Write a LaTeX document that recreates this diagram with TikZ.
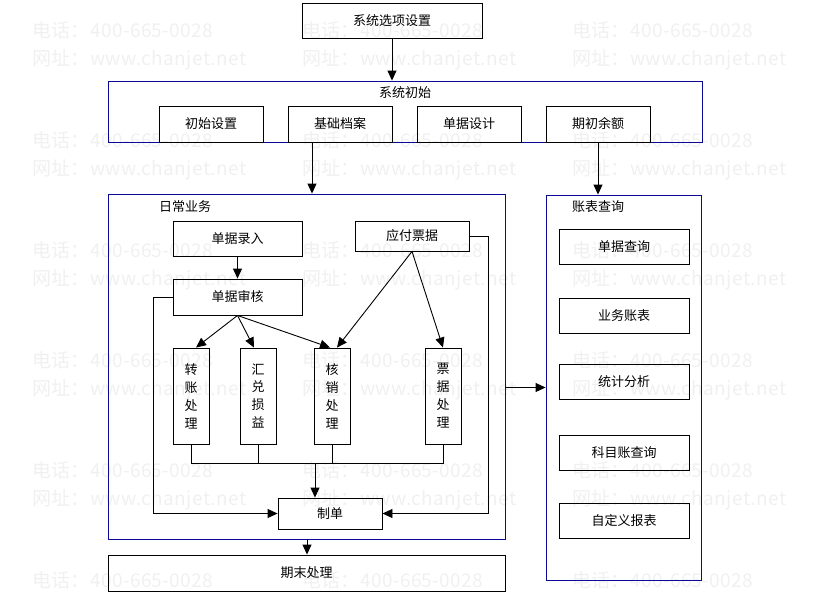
\documentclass[tikz,border=0pt]{standalone}
\usepackage{fontspec}
\usetikzlibrary{arrows.meta,calc}
\newfontfamily\cjk{Noto Sans CJK SC}
\newfontfamily\wmfont[LetterSpace=2]{Noto Sans CJK SC}
\definecolor{frameblue}{RGB}{10,10,150}
\definecolor{wmgray}{RGB}{240,240,240}
\begin{document}
\begin{tikzpicture}[x=1pt,y=-1pt,
  every node/.style={font=\cjk\fontsize{13}{18}\selectfont,inner sep=0pt},
  box/.style={draw=black,line width=0.9pt,minimum height=35pt},
  frame/.style={draw=frameblue,line width=0.9pt},
  vbox/.style={draw=black,line width=0.9pt,minimum width=36pt,minimum height=96pt,align=center},
  rbox/.style={box,minimum width=130pt},
  wm/.style={font=\wmfont\fontsize{19}{20}\selectfont,text=wmgray,anchor=west},
  conn/.style={line width=0.9pt,draw=black},
  arr/.style={conn,-{Triangle[length=10pt,width=9pt]}}
]
\useasboundingbox (0,0) rectangle (823,598);
% watermark
\foreach \cx in {32,302,572}{
  \foreach \ry in {30,140,250,360,470,580}{
    \node[wm] at (\cx,\ry) {电话：400-665-0028};
  }
  \foreach \ry in {60,170,280,390,500}{
    \node[wm] at (\cx,\ry) {网址：www.chanjet.net};
  }
}
% top
\node[box,minimum width=180pt] (opt) at (392,20.5) {系统选项设置};
\node[frame,minimum width=594pt,minimum height=61pt] (init) at (405,111.5) {};
\node (initlbl) at (405,93) {系统初始};
\node[box,minimum width=104pt,minimum height=36pt] (cs) at (211,124) {初始设置};
\node[box,minimum width=104pt,minimum height=36pt] (jc) at (340,124) {基础档案};
\node[box,minimum width=104pt,minimum height=36pt] (djsj) at (469,124) {单据设计};
\node[box,minimum width=104pt,minimum height=36pt] (qc) at (598,124) {期初余额};
% daily
\node[frame,minimum width=397pt,minimum height=345pt] (daily) at (306.5,366.5) {};
\node (dailylbl) at (185,207) {日常业务};
\node[box,minimum width=129pt] (lr) at (237.5,238.5) {单据录入};
\node[box,minimum width=129pt,minimum height=36pt] (sh) at (237.5,297) {单据审核};
\node[box,minimum width=114pt,minimum height=30pt] (yf) at (412,236) {应付票据};
\node[vbox] (zz) at (191,396) {转\\账\\处\\理};
\node[vbox] (hd) at (258,396) {汇\\兑\\损\\益};
\node[vbox] (hx) at (332,396) {核\\销\\处\\理};
\node[vbox] (pj) at (443,396) {票\\据\\处\\理};
\node[box,minimum width=104pt,minimum height=31pt] (zd) at (330,513.5) {制单};
\node[box,minimum width=397pt,minimum height=36pt] (qm) at (306.5,573) {期末处理};
% query
\node[frame,minimum width=155pt,minimum height=385pt] (zb) at (623.5,387.5) {};
\node (zblbl) at (598,207) {账表查询};
\node[rbox] (q1) at (624,246.5) {单据查询};
\node[rbox] (q2) at (624,315.5) {业务账表};
\node[rbox] (q3) at (624,382) {统计分析};
\node[rbox] (q4) at (624,452.5) {科目账查询};
\node[rbox] (q5) at (624,521) {自定义报表};
% connectors
\draw[arr] (opt.south) -- (opt.south |- init.north);
\coordinate (jcout) at ([xshift=-28pt]jc.south);
\draw[arr] (jcout) -- (jcout |- daily.north);
\draw[arr] (qc.south) -- (qc.south |- zb.north);
\draw[arr] (lr.south) -- (sh.north);
\draw[arr] (sh.south) -- ([xshift=5pt]zz.north);
\draw[arr] (sh.south) -- ([xshift=-4pt]hd.north);
\draw[arr] (sh.south) -- ([xshift=-2pt]hx.north);
\draw[arr] (yf.south) -- ([xshift=5pt]hx.north);
\draw[arr] (yf.south) -- (pj.north);
\coordinate (busL) at ($(zz.south)+(0,19)$);
\coordinate (busR) at ($(pj.south)+(0,19)$);
\draw[conn] (zz.south) -- (busL) -- (busR) -- (pj.south);
\draw[conn] (hd.south) -- (hd.south |- busL);
\draw[conn] (hx.south) -- (hx.south |- busL);
\coordinate (busM) at ([xshift=-15pt]zd.north |- busL);
\draw[arr] (busM) -- ([xshift=-15pt]zd.north);
\coordinate (lt) at (153,297);
\draw[arr] (sh.west) -- (lt) -- (lt |- zd.west) -- (zd.west);
\coordinate (rt) at (488,236);
\draw[arr] (yf.east) -- (rt) -- (rt |- zd.east) -- (zd.east);
\coordinate (dout) at ([xshift=0.5pt]daily.south);
\draw[arr] (dout) -- (dout |- qm.north);
\draw[arr] (daily.east |- zb.west) -- (zb.west);
\end{tikzpicture}
\end{document}
